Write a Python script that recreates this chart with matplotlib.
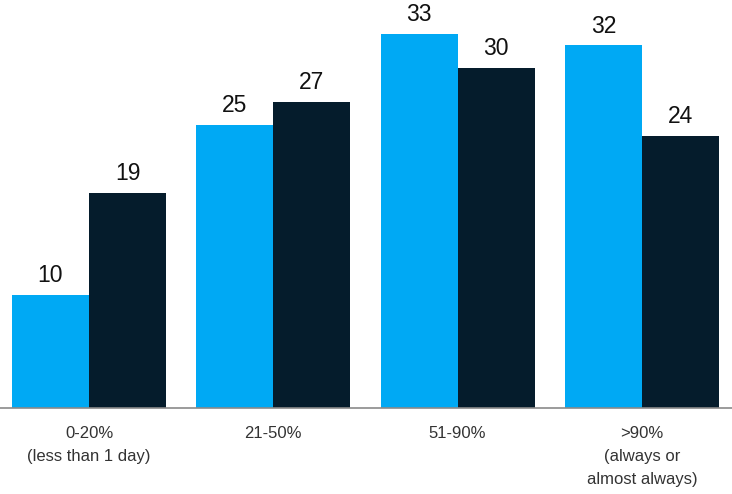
import matplotlib.pyplot as plt
import numpy as np

plt.rcParams["font.family"] = ["Liberation Sans", "DejaVu Sans"]

light_blue = "#00A9F4"
navy = "#051C2C"

categories = ["0-20%\n(less than 1 day)", "21-50%", "51-90%", ">90%\n(always or\nalmost always)"]
series_a = [10, 25, 33, 32]
series_b = [19, 27, 30, 24]

fig = plt.figure(figsize=(7.32, 4.94), dpi=100)
ax = fig.add_axes([0, 1 - 408 / 494, 1, 408 / 494])

x = np.arange(len(categories))
w = 0.418
bars_a = ax.bar(x - w / 2, series_a, w, color=light_blue)
bars_b = ax.bar(x + w / 2, series_b, w, color=navy)

for bars, vals in ((bars_a, series_a), (bars_b, series_b)):
    for b, v in zip(bars, vals):
        ax.annotate(str(v), (b.get_x() + b.get_width() / 2, v),
                    xytext=(0, 5.5), textcoords="offset points",
                    ha="center", va="bottom", fontsize=16.5, color="#111111")

ax.set_xlim(-89 / 184.3, (732 - 89) / 184.3)
ax.set_ylim(0, 36)
ax.set_yticks([])
ax.set_xticks(x)
ax.set_xticklabels(categories, fontsize=12, color="#333333", linespacing=1.65)
ax.tick_params(axis="x", length=0, pad=13)
for s in ("top", "right", "left"):
    ax.spines[s].set_visible(False)
ax.spines["bottom"].set_color("#8a8a8a")
ax.spines["bottom"].set_linewidth(1.2)

fig.savefig("out.png", dpi=100)
